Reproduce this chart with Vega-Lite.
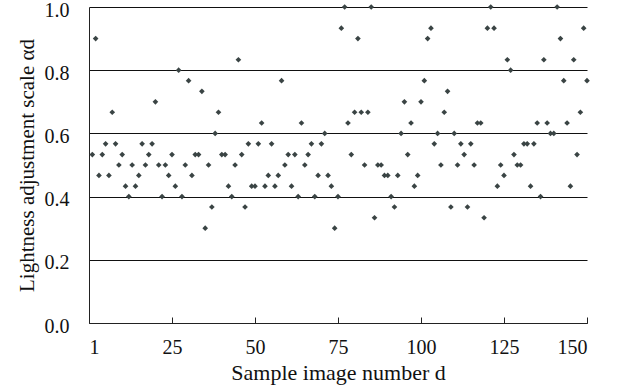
{
  "$schema": "https://vega.github.io/schema/vega-lite/v6.json",
  "autosize": "none",
  "width": 498,
  "height": 316,
  "padding": {"left": 89, "top": 7, "right": 31, "bottom": 68},
  "background": "white",
  "config": {
    "view": {"stroke": null},
    "font": "Liberation Serif",
    "axis": {"labelFont": "Liberation Serif", "titleFont": "Liberation Serif", "labelColor": "#111", "titleColor": "#111", "titleFontWeight": "normal"}
  },
  "data": {"values": [
    {"d":1,"a":0.533},{"d":2,"a":0.9},{"d":3,"a":0.467},{"d":4,"a":0.533},{"d":5,"a":0.567},
    {"d":6,"a":0.467},{"d":7,"a":0.667},{"d":8,"a":0.567},{"d":9,"a":0.5},{"d":10,"a":0.533},
    {"d":11,"a":0.433},{"d":12,"a":0.4},{"d":13,"a":0.5},{"d":14,"a":0.433},{"d":15,"a":0.467},
    {"d":16,"a":0.567},{"d":17,"a":0.5},{"d":18,"a":0.533},{"d":19,"a":0.567},{"d":20,"a":0.7},
    {"d":21,"a":0.5},{"d":22,"a":0.4},{"d":23,"a":0.5},{"d":24,"a":0.467},{"d":25,"a":0.533},
    {"d":26,"a":0.433},{"d":27,"a":0.8},{"d":28,"a":0.4},{"d":29,"a":0.5},{"d":30,"a":0.767},
    {"d":31,"a":0.467},{"d":32,"a":0.533},{"d":33,"a":0.533},{"d":34,"a":0.733},{"d":35,"a":0.3},
    {"d":36,"a":0.5},{"d":37,"a":0.367},{"d":38,"a":0.6},{"d":39,"a":0.667},{"d":40,"a":0.533},
    {"d":41,"a":0.533},{"d":42,"a":0.433},{"d":43,"a":0.4},{"d":44,"a":0.5},{"d":45,"a":0.833},
    {"d":46,"a":0.533},{"d":47,"a":0.367},{"d":48,"a":0.567},{"d":49,"a":0.433},{"d":50,"a":0.433},
    {"d":51,"a":0.567},{"d":52,"a":0.633},{"d":53,"a":0.433},{"d":54,"a":0.467},{"d":55,"a":0.567},
    {"d":56,"a":0.433},{"d":57,"a":0.467},{"d":58,"a":0.767},{"d":59,"a":0.5},{"d":60,"a":0.533},
    {"d":61,"a":0.433},{"d":62,"a":0.533},{"d":63,"a":0.4},{"d":64,"a":0.633},{"d":65,"a":0.5},
    {"d":66,"a":0.533},{"d":67,"a":0.567},{"d":68,"a":0.4},{"d":69,"a":0.467},{"d":70,"a":0.567},
    {"d":71,"a":0.6},{"d":72,"a":0.467},{"d":73,"a":0.433},{"d":74,"a":0.3},{"d":75,"a":0.4},
    {"d":76,"a":0.933},{"d":77,"a":1.0},{"d":78,"a":0.633},{"d":79,"a":0.533},{"d":80,"a":0.667},
    {"d":81,"a":0.9},{"d":82,"a":0.667},{"d":83,"a":0.5},{"d":84,"a":0.667},{"d":85,"a":1.0},
    {"d":86,"a":0.333},{"d":87,"a":0.5},{"d":88,"a":0.5},{"d":89,"a":0.467},{"d":90,"a":0.467},
    {"d":91,"a":0.4},{"d":92,"a":0.367},{"d":93,"a":0.467},{"d":94,"a":0.6},{"d":95,"a":0.7},
    {"d":96,"a":0.533},{"d":97,"a":0.633},{"d":98,"a":0.433},{"d":99,"a":0.467},{"d":100,"a":0.7},
    {"d":101,"a":0.767},{"d":102,"a":0.9},{"d":103,"a":0.933},{"d":104,"a":0.567},{"d":105,"a":0.6},
    {"d":106,"a":0.5},{"d":107,"a":0.667},{"d":108,"a":0.733},{"d":109,"a":0.367},{"d":110,"a":0.6},
    {"d":111,"a":0.5},{"d":112,"a":0.567},{"d":113,"a":0.533},{"d":114,"a":0.367},{"d":115,"a":0.567},
    {"d":116,"a":0.5},{"d":117,"a":0.633},{"d":118,"a":0.633},{"d":119,"a":0.333},{"d":120,"a":0.933},
    {"d":121,"a":1.0},{"d":122,"a":0.933},{"d":123,"a":0.433},{"d":124,"a":0.5},{"d":125,"a":0.467},
    {"d":126,"a":0.833},{"d":127,"a":0.8},{"d":128,"a":0.533},{"d":129,"a":0.5},{"d":130,"a":0.5},
    {"d":131,"a":0.567},{"d":132,"a":0.567},{"d":133,"a":0.433},{"d":134,"a":0.567},{"d":135,"a":0.633},
    {"d":136,"a":0.4},{"d":137,"a":0.833},{"d":138,"a":0.633},{"d":139,"a":0.6},{"d":140,"a":0.6},
    {"d":141,"a":1.0},{"d":142,"a":0.9},{"d":143,"a":0.767},{"d":144,"a":0.633},{"d":145,"a":0.433},
    {"d":146,"a":0.833},{"d":147,"a":0.533},{"d":148,"a":0.667},{"d":149,"a":0.933},{"d":150,"a":0.767}
  ]},
  "mark": {"type": "point", "shape": "diamond", "filled": true, "size": 32, "color": "#3a4444", "opacity": 1},
  "encoding": {
    "x": {
      "field": "d", "type": "quantitative",
      "scale": {"domain": [0, 150], "nice": false, "zero": false},
      "axis": {
        "values": [0, 25, 50, 75, 100, 125, 150],
        "labelExpr": "datum.value == 0 ? '1' : datum.label",
        "grid": false,
        "domainColor": "#222", "domainWidth": 1,
        "tickColor": "#222", "tickSize": -6, "tickWidth": 1,
        "labelFontSize": 20, "labelPadding": 20,
        "title": "Sample image number d",
        "titleFontSize": 22, "titlePadding": 5
      }
    },
    "y": {
      "field": "a", "type": "quantitative",
      "scale": {"domain": [0, 1], "nice": false},
      "axis": {
        "values": [0, 0.2, 0.4, 0.6, 0.8, 1.0],
        "format": ".1f",
        "grid": true, "gridColor": "#111", "gridWidth": 1, "gridOpacity": 1,
        "ticks": false,
        "domainColor": "#222", "domainWidth": 1,
        "labelFontSize": 20, "labelPadding": 20, "labelOffset": 3,
        "title": "Lightness adjustment scale αd",
        "titleFontSize": 21, "titlePadding": 7
      }
    }
  }
}
